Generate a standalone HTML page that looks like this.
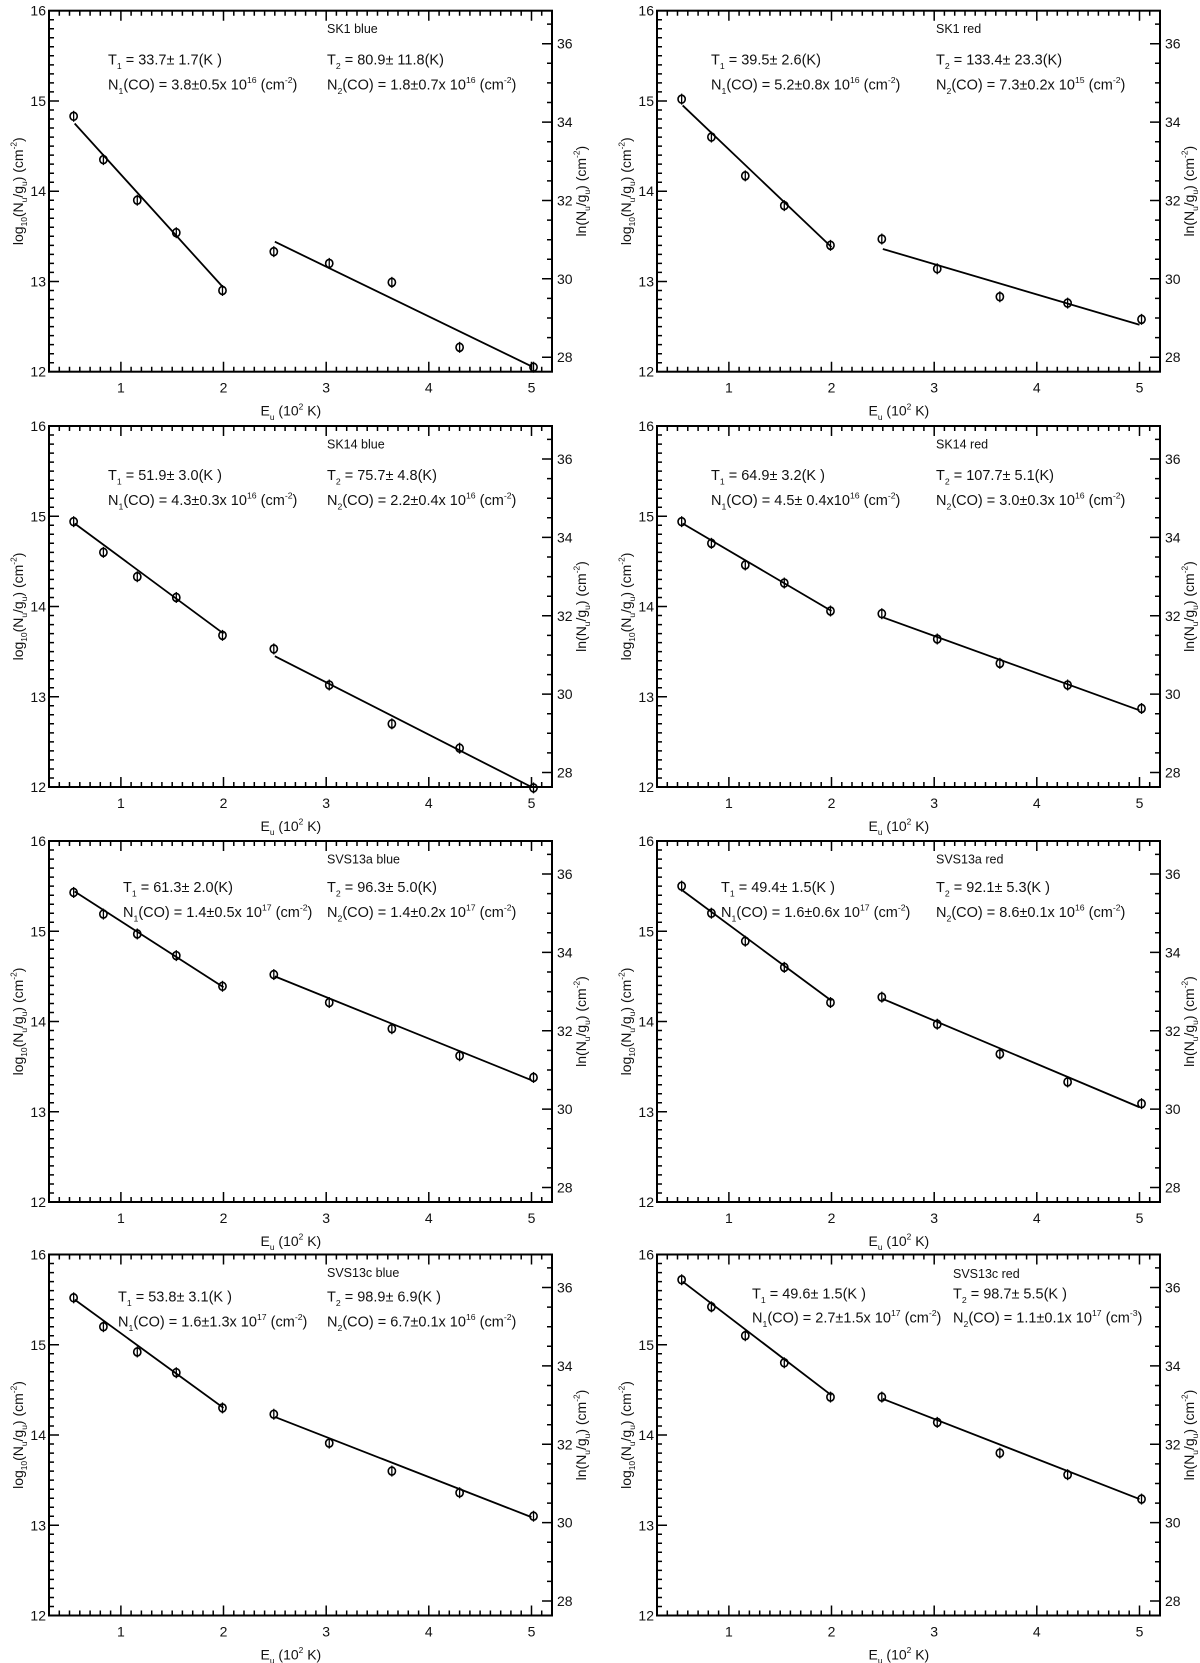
<!DOCTYPE html>
<html><head><meta charset="utf-8"><style>
html,body{margin:0;padding:0;background:#fff;}
svg{display:block;font-family:"Liberation Sans",Arial,sans-serif;}
</style></head><body>
<svg id="fig" width="1200" height="1663" viewBox="0 0 1200 1663" xmlns="http://www.w3.org/2000/svg"></svg>
<script>
// ---- data ----
const euValues = [0.54, 0.83, 1.16, 1.54, 1.99, 2.49, 3.03, 3.64, 4.30, 5.02];
const panelNames = ["SK1 blue","SK1 red","SK14 blue","SK14 red","SVS13a blue","SVS13a red","SVS13c blue","SVS13c red"];
const logSK1blue   = [14.83,14.35,13.90,13.54,12.90, 13.33,13.20,12.99,12.27,12.05];
const logSK1red    = [15.02,14.60,14.17,13.84,13.40, 13.47,13.14,12.83,12.76,12.58];
const logSK14blue  = [14.94,14.60,14.33,14.10,13.68, 13.53,13.13,12.70,12.43,11.99];
const logSK14red   = [14.94,14.70,14.46,14.26,13.95, 13.92,13.64,13.37,13.13,12.87];
const logSVS13ablue= [15.43,15.19,14.97,14.73,14.39, 14.52,14.21,13.92,13.62,13.38];
const logSVS13ared = [15.50,15.20,14.89,14.60,14.21, 14.27,13.97,13.64,13.33,13.09];
const logSVS13cblue= [15.52,15.20,14.92,14.69,14.30, 14.23,13.91,13.60,13.36,13.10];
const logSVS13cred = [15.72,15.42,15.10,14.80,14.42, 14.42,14.14,13.80,13.56,13.29];
// fit lines: [x0,y0,x1,y1]
const fit1 = [[0.55,14.75,2.0,12.93],[0.55,14.95,2.0,13.38],[0.55,14.92,2.0,13.70],[0.55,14.92,2.0,13.95],
              [0.55,15.44,2.0,14.38],[0.55,15.45,2.0,14.23],[0.55,15.50,2.0,14.30],[0.55,15.70,2.0,14.44]];
const fit2 = [[2.5,13.44,5.0,12.06],[2.5,13.36,5.0,12.52],[2.5,13.45,5.0,12.00],[2.5,13.88,5.0,12.85],
              [2.5,14.50,5.0,13.35],[2.5,14.25,5.0,13.05],[2.5,14.20,5.0,13.09],[2.5,14.40,5.0,13.29]];
const tLine1 = ["T_{1} =  33.7± 1.7(K )","T_{1} =  39.5± 2.6(K)","T_{1} =  51.9± 3.0(K )","T_{1} =  64.9± 3.2(K )",
                "T_{1} =  61.3± 2.0(K)","T_{1} =  49.4± 1.5(K )","T_{1} =  53.8± 3.1(K )","T_{1} =  49.6± 1.5(K )"];
const tLine2 = ["T_{2} =  80.9± 11.8(K)","T_{2} = 133.4± 23.3(K)","T_{2} =  75.7±  4.8(K)","T_{2} = 107.7±  5.1(K)",
                "T_{2} =  96.3± 5.0(K)","T_{2} =  92.1± 5.3(K )","T_{2} =  98.9± 6.9(K )","T_{2} =  98.7± 5.5(K )"];
const nLine1 = ["N_{1}(CO) = 3.8±0.5x 10^{16} (cm^{-2})","N_{1}(CO) = 5.2±0.8x 10^{16} (cm^{-2})","N_{1}(CO) = 4.3±0.3x 10^{16} (cm^{-2})","N_{1}(CO) = 4.5± 0.4x10^{16} (cm^{-2})",
                "N_{1}(CO) = 1.4±0.5x 10^{17} (cm^{-2})","N_{1}(CO) = 1.6±0.6x 10^{17} (cm^{-2})","N_{1}(CO) = 1.6±1.3x 10^{17} (cm^{-2})","N_{1}(CO) = 2.7±1.5x 10^{17} (cm^{-2})"];
const nLine2 = ["N_{2}(CO) = 1.8±0.7x 10^{16} (cm^{-2})","N_{2}(CO) = 7.3±0.2x 10^{15} (cm^{-2})","N_{2}(CO) = 2.2±0.4x 10^{16} (cm^{-2})","N_{2}(CO) = 3.0±0.3x 10^{16} (cm^{-2})",
                "N_{2}(CO) = 1.4±0.2x 10^{17} (cm^{-2})","N_{2}(CO) = 8.6±0.1x 10^{16} (cm^{-2})","N_{2}(CO) = 6.7±0.1x 10^{16} (cm^{-2})","N_{2}(CO) = 1.1±0.1x 10^{17} (cm^{-3})"];
const xTicks = [1,2,3,4,5];
const yTicks = [12,13,14,15,16];
const lnTicks = [28,30,32,34,36];
const allSeries = [logSK1blue,logSK1red,logSK14blue,logSK14red,logSVS13ablue,logSVS13ared,logSVS13cblue,logSVS13cred];

// ---- layout ----
const NS="http://www.w3.org/2000/svg";
const svg=document.getElementById('fig');
const XMIN=0.3,XMAX=5.2,YMIN=12,YMAX=16;
const PW=503,PH=361;
const lefts=[49,657], tops=[10.7,426,841,1254.5];
// text positions [titleX, t1X, t2X, titleRelY, tRelY, nRelY]
const textPos=[[327,108,327,18,49,74],[936,711,936,18,49,74],[327,108,327,18,49,74],[936,711,936,18,49,74],
               [327,123,327,18,46,71],[936,721,936,18,46,71],[327,118,327,18,42,67],[953,752,953,19,39,63]];
function el(tag,attrs,parent){const e=document.createElementNS(NS,tag);for(const k in attrs)e.setAttribute(k,attrs[k]);(parent||svg).appendChild(e);return e;}
function richText(parent,str,x,y,size,extra){
  const t=el('text',Object.assign({x:x,y:y,'font-size':size,fill:'#111'},extra||{}),parent);
  const re=/([_^])\{([^}]*)\}|([^_^]+)/g;let m;let shift=0;
  while((m=re.exec(str))){
    const s=document.createElementNS(NS,'tspan');
    if(m[3]!==undefined){s.textContent=m[3];s.setAttribute('dy',-shift);shift=0;}
    else{const d=m[1]==='_'?size*0.3:-size*0.45;s.textContent=m[2];s.setAttribute('font-size',size*0.6);s.setAttribute('dy',d-shift);shift=d;}
    t.appendChild(s);
  }
  return t;
}
for(let p=0;p<8;p++){
  const L=lefts[p%2],T=tops[Math.floor(p/2)],R=L+PW,B=T+PH;
  const sx=v=>L+(v-XMIN)/(XMAX-XMIN)*PW;
  const sy=v=>B-(v-YMIN)/(YMAX-YMIN)*PH;
  const sln=v=>sy(v/Math.LN10);
  const g=el('g',{});
  
  
  const frame=el('rect',{x:L,y:T,width:PW,height:PH,fill:'none',stroke:'#000','stroke-width':2},g);
  
  
  let d='';
  for(let v=0.4;v<=5.2001;v+=0.1){const x=sx(v).toFixed(1);const maj=Math.abs(v-Math.round(v))<0.01;const len=maj?10:5;d+=`M${x},${B}v${-len}M${x},${T}v${len}`;}
  for(let v=12.1;v<=15.9501;v+=0.1){const y=sy(v).toFixed(1);const maj=Math.abs(v-Math.round(v))<0.01;d+=`M${L},${y}h${maj?10:5}`;}
  for(let v=28;v<=36.6;v+=0.5){const y=sln(v);if(y<T+1||y>B-1)continue;const maj=Math.abs(v/2-Math.round(v/2))<0.01;d+=`M${R},${y.toFixed(1)}h${maj?-10:-5}`;}
  const ticks=el('path',{d:d,stroke:'#000','stroke-width':1.5,fill:'none'},g);
  
  
  xTicks.forEach(v=>{const t=el('text',{x:sx(v),y:B+21,'font-size':14,'text-anchor':'middle',fill:'#111'},g);t.textContent=v;
    
    });
  yTicks.forEach(v=>{const t=el('text',{x:L-3,y:sy(v)+5,'font-size':14,'text-anchor':'end',fill:'#111'},g);t.textContent=v;
    
    });
  lnTicks.forEach(v=>{const t=el('text',{x:R+5,y:sln(v)+5,'font-size':14,fill:'#111'},g);t.textContent=v;
    
    });
  const xl=richText(g,'E_{u}  (10^{2} K)',sx(2.75)-40,B+44,14);
  
  
  const cy=(T+B)/2;
  const yl=richText(g,'log_{10}(N_{u}/g_{u}) (cm^{-2})',0,0,14,{'text-anchor':'middle',transform:`translate(${L-26},${cy}) rotate(-90)`});
  
  
  const rl=richText(g,'ln(N_{u}/g_{u}) (cm^{-2})',0,0,14,{'text-anchor':'middle',transform:`translate(${R+34},${cy}) rotate(-90)`});
  
  
  const tp=textPos[p];
  const tt=el('text',{x:tp[0],y:T+tp[3]+4.5,'font-size':12.5,fill:'#111'},g);tt.textContent=panelNames[p];
  
  
  [[tLine1[p],tp[1],tp[4],'t1-label'],[tLine2[p],tp[2],tp[4],'t2-label'],[nLine1[p],tp[1],tp[5],'n1-label'],[nLine2[p],tp[2],tp[5],'n2-label']].forEach(a=>{
    const t=richText(g,a[0],a[1],T+a[2]+5,14.5,{'xml:space':'preserve'});
    
    
  });
  [fit1[p],fit2[p]].forEach((f,i)=>{
    const ln=el('line',{x1:sx(f[0]),y1:sy(f[1]),x2:sx(f[2]),y2:sy(f[3]),stroke:'#000','stroke-width':1.8},g);
    
    
  });
  allSeries[p].forEach((v,i)=>{
    const x=sx(euValues[i]),y=sy(v);
    const pt=el('g',{},g);
    
    
    el('ellipse',{cx:x,cy:y,rx:3.6,ry:4,fill:'none',stroke:'#000','stroke-width':1.6},pt);
    el('line',{x1:x,y1:y-5.5,x2:x,y2:y+5.5,stroke:'#000','stroke-width':1.3},pt);
  });
}
</script>
</body></html>
